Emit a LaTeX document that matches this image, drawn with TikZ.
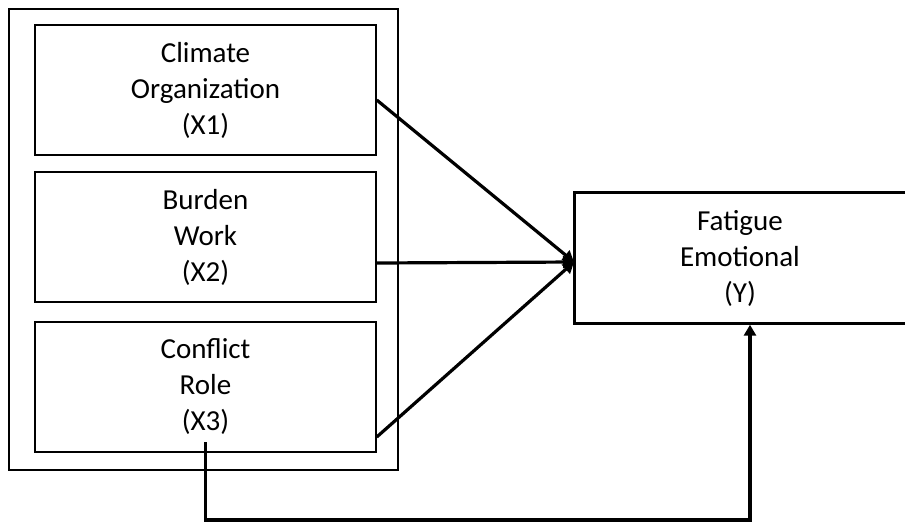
\documentclass[tikz,border=0pt]{standalone}
\usepackage{fontspec}
\setmainfont{Carlito}
\usetikzlibrary{arrows.meta}
\tikzset{
  inbox/.style={draw, line width=1.5pt, minimum width=341pt, minimum height=130pt, align=center, inner sep=0pt, font=\fontsize{29}{36}\selectfont, execute at begin node={\vspace*{6pt}}},
  outbox/.style={draw, line width=1.5pt, minimum width=389pt, minimum height=461pt, inner sep=0pt},
  ybox/.style={minimum width=330pt, minimum height=130pt, align=center, inner sep=0pt, font=\fontsize{29}{36}\selectfont},
  arr/.style={line width=3.2pt, -{Triangle[length=11pt,width=12pt]}},
}
\begin{document}
\begin{tikzpicture}[x=1pt,y=-1pt]
\useasboundingbox (0,0) rectangle (905,523);
\clip (0,0) rectangle (905,523);
\node[outbox] (O) at (203.5,239.5) {};
\node[inbox] (B1) at (205.5,90) {Climate\\Organization\\(X1)};
\node[inbox] (B2) at (205.5,237) {Burden\\Work\\(X2)};
\node[inbox] (B3) at (205.5,387) {Conflict\\Role\\(X3)};
\node[ybox] (Y) at (740,258) {Fatigue\\Emotional\\(Y)};
\draw[line width=3pt] ([xshift=5pt]Y.north east) -- (Y.north west) -- (Y.south west) -- ([xshift=5pt]Y.south east);
\coordinate (tip) at (574,262);
\draw[arr] ([yshift=-10pt]B1.east) -- (tip);
\draw[arr] ([yshift=-26pt]B2.east) -- (tip);
\draw[arr] ([yshift=-50pt]B3.east) -- (tip);
\coordinate (s) at ([yshift=-55pt]B3.center);
\coordinate (low) at (750,520);
\draw[arr] (s) |- (low) -- ([xshift=10pt,yshift=-1.5pt]Y.south);
\end{tikzpicture}
\end{document}
